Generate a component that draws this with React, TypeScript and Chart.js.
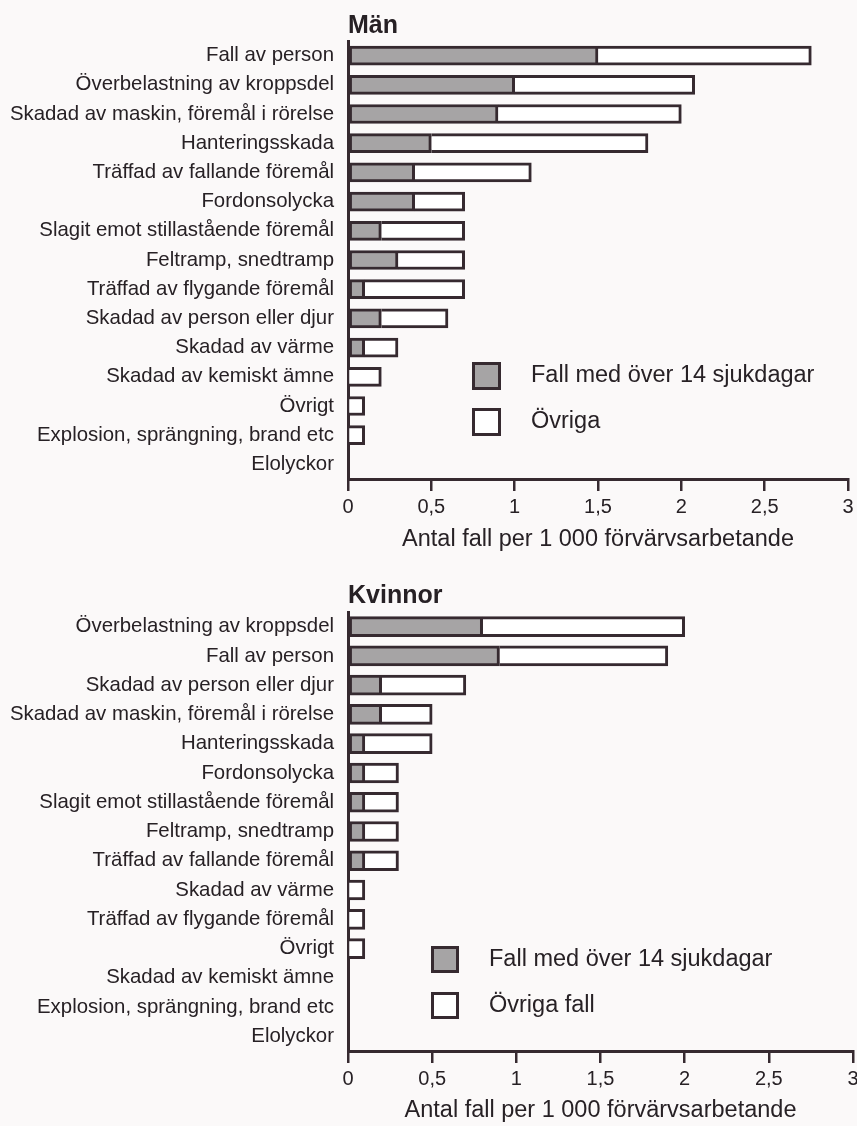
import React, { useEffect, useRef } from 'react';
import { Chart, registerables } from 'chart.js';

Chart.register(...registerables);

const FONT = '"Liberation Sans", Arial, Helvetica, sans-serif';
const INK = '#272125';
const EDGE = '#362a30';
const GRAY = '#a6a4a5';
const PAPER = '#fbf9f9';

const menCategories = [
  'Fall av person',
  'Överbelastning av kroppsdel',
  'Skadad av maskin, föremål i rörelse',
  'Hanteringsskada',
  'Träffad av fallande föremål',
  'Fordonsolycka',
  'Slagit emot stillastående föremål',
  'Feltramp, snedtramp',
  'Träffad av flygande föremål',
  'Skadad av person eller djur',
  'Skadad av värme',
  'Skadad av kemiskt ämne',
  'Övrigt',
  'Explosion, sprängning, brand etc',
  'Elolyckor',
];
const menSevere = [1.5, 1.0, 0.9, 0.5, 0.4, 0.4, 0.2, 0.3, 0.1, 0.2, 0.1, 0, 0, 0, 0];
const menOther = [1.28, 1.08, 1.1, 1.3, 0.7, 0.3, 0.5, 0.4, 0.6, 0.4, 0.2, 0.2, 0.1, 0.1, 0];

const womenCategories = [
  'Överbelastning av kroppsdel',
  'Fall av person',
  'Skadad av person eller djur',
  'Skadad av maskin, föremål i rörelse',
  'Hanteringsskada',
  'Fordonsolycka',
  'Slagit emot stillastående föremål',
  'Feltramp, snedtramp',
  'Träffad av fallande föremål',
  'Skadad av värme',
  'Träffad av flygande föremål',
  'Övrigt',
  'Skadad av kemiskt ämne',
  'Explosion, sprängning, brand etc',
  'Elolyckor',
];
const womenSevere = [0.8, 0.9, 0.2, 0.2, 0.1, 0.1, 0.1, 0.1, 0.1, 0, 0, 0, 0, 0, 0];
const womenOther = [1.2, 1.0, 0.5, 0.3, 0.4, 0.2, 0.2, 0.2, 0.2, 0.1, 0.1, 0.1, 0, 0, 0];

const xTickLabels = ['0', '0,5', '1', '1,5', '2', '2,5', '3'];
const menLegendLabels = ['Fall med över 14 sjukdagar', 'Övriga'];
const womenLegendLabels = ['Fall med över 14 sjukdagar', 'Övriga fall'];
const menTitle = 'Män';
const womenTitle = 'Kvinnor';
const axisTitle = 'Antal fall per 1 000 förvärvsarbetande';

const panelTitlePlugin = {
  id: 'panelTitle',
  afterDraw(chart: any, _args: any, opts: any) {
    const { ctx, chartArea } = chart;
    ctx.save();
    ctx.fillStyle = INK;
    ctx.font = `bold ${opts.size}px ${FONT}`;
    ctx.textBaseline = 'alphabetic';
    ctx.textAlign = 'left';
    ctx.fillText(opts.text, chartArea.left, opts.baseline);
    ctx.restore();
  },
};

const boxLegendPlugin = {
  id: 'boxLegend',
  afterDraw(chart: any, _args: any, opts: any) {
    const { ctx } = chart;
    ctx.save();
    chart.data.datasets.forEach((ds: any, i: number) => {
      const y = opts.y + i * opts.gap;
      ctx.fillStyle = ds.backgroundColor;
      ctx.fillRect(opts.x, y, opts.w, opts.h);
      ctx.strokeStyle = EDGE;
      ctx.lineWidth = 3;
      ctx.strokeRect(opts.x + 1.5, y + 1.5, opts.w - 3, opts.h - 3);
      ctx.fillStyle = INK;
      ctx.font = `${opts.size}px ${FONT}`;
      ctx.textBaseline = 'middle';
      ctx.textAlign = 'left';
      ctx.fillText(ds.label, opts.textX, y + opts.h / 2);
    });
    ctx.restore();
  },
};

function makeConfig(p: any): any {
  return {
    type: 'bar',
    data: {
      labels: p.categories,
      datasets: [
        {
          label: p.legend[0],
          data: p.severe,
          backgroundColor: GRAY,
          borderColor: EDGE,
          borderWidth: 3,
          borderSkipped: false,
          barThickness: p.barThickness,
        },
        {
          label: p.legend[1],
          data: p.other,
          backgroundColor: '#ffffff',
          borderColor: EDGE,
          borderWidth: 3,
          borderSkipped: 'start',
          barThickness: p.barThickness,
        },
      ],
    },
    options: {
      indexAxis: 'y',
      responsive: false,
      animation: false,
      layout: { padding: { top: p.top, right: p.right, bottom: 0, left: 0 } },
      plugins: {
        legend: { display: false },
        tooltip: { enabled: false },
        panelTitle: { text: p.title, size: 25, baseline: p.titleBaseline },
        boxLegend: p.legendBox,
      },
      scales: {
        x: {
          type: 'linear',
          stacked: true,
          min: 0,
          max: 3,
          ticks: {
            stepSize: 0.5,
            autoSkip: false,
            maxRotation: 0,
            color: INK,
            font: { family: FONT, size: 20 },
            padding: 4,
            callback: (v: number) => xTickLabels[Math.round(v * 2)] ?? '',
          },
          grid: {
            display: true,
            drawOnChartArea: false,
            drawTicks: true,
            tickLength: 12,
            color: EDGE,
            lineWidth: 2.5,
          },
          border: { display: true, color: EDGE, width: 3 },
          title: {
            display: true,
            text: axisTitle,
            color: INK,
            font: { family: FONT, size: 23.5 },
            padding: { top: 0, bottom: p.titlePadBottom },
          },
          afterFit: (s: any) => {
            s.height = p.xAxisHeight;
            s.paddingRight = 0;
            s.paddingLeft = 0;
          },
        },
        y: {
          stacked: true,
          ticks: {
            autoSkip: false,
            color: INK,
            font: { family: FONT, size: 20.4 },
            padding: 14,
          },
          grid: { display: false, drawTicks: false },
          border: { display: true, color: EDGE, width: 3 },
          afterFit: (s: any) => {
            s.width = 348;
          },
        },
      },
    },
    plugins: [panelTitlePlugin, boxLegendPlugin],
  };
}

const menPanel = {
  categories: menCategories,
  severe: menSevere,
  other: menOther,
  legend: menLegendLabels,
  title: menTitle,
  titleBaseline: 33,
  top: 41,
  right: 9,
  xAxisHeight: 81,
  titlePadBottom: 6,
  barThickness: 19,
  legendBox: { x: 472, y: 362, w: 29, h: 28, gap: 46, textX: 531, size: 23.5 },
};

const womenPanel = {
  categories: womenCategories,
  severe: womenSevere,
  other: womenOther,
  legend: womenLegendLabels,
  title: womenTitle,
  titleBaseline: 43,
  top: 52,
  right: 4,
  xAxisHeight: 75,
  titlePadBottom: 1,
  barThickness: 20,
  legendBox: { x: 431, y: 386, w: 28, h: 27, gap: 46, textX: 489, size: 23.5 },
};

function Panel({ cfg, height }: { cfg: any; height: number }) {
  const ref = useRef<HTMLCanvasElement>(null);
  useEffect(() => {
    const chart = new Chart(ref.current as HTMLCanvasElement, makeConfig(cfg));
    return () => chart.destroy();
  }, [cfg]);
  return (
    <canvas
      ref={ref}
      width={857}
      height={height}
      style={{ display: 'block', width: 857, height }}
    />
  );
}

export default function App() {
  return (
    <div
      style={{
        position: 'absolute',
        left: 0,
        top: 0,
        width: 857,
        height: 1126,
        background: PAPER,
        overflow: 'hidden',
      }}
    >
      <Panel cfg={menPanel} height={560} />
      <Panel cfg={womenPanel} height={566} />
    </div>
  );
}
